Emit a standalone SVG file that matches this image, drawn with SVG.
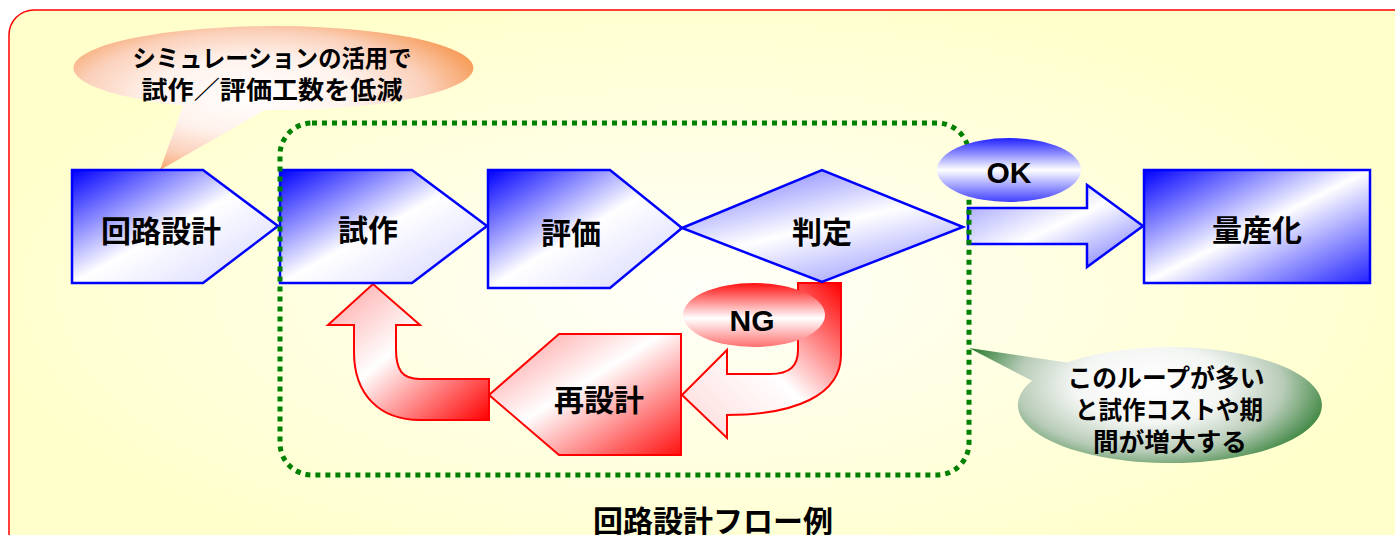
<svg xmlns="http://www.w3.org/2000/svg" width="1395" height="535" viewBox="0 0 1395 535">
<style>
.jp{font-family:"Noto Sans CJK JP","Noto Sans CJK SC",sans-serif;font-weight:700;fill:#000;text-anchor:middle;dominant-baseline:central}
.lat{font-family:"Liberation Sans",Arial,sans-serif;font-weight:700;fill:#000;text-anchor:middle}
.blue{stroke:#0000FF;stroke-width:2.5;stroke-linejoin:miter}
.red{stroke:#FF0000;stroke-width:2;stroke-linejoin:miter}
</style>
<defs>
<radialGradient id="bg" gradientUnits="userSpaceOnUse" cx="0" cy="0" r="1" gradientTransform="translate(700,290) scale(720,300)">
<stop offset="0" stop-color="#FFFFFA"/><stop offset="1" stop-color="#FFFFCC"/>
</radialGradient>
<linearGradient id="gBlue" x1="0" y1="0" x2="1" y2="1">
<stop offset="0" stop-color="#0000FF"/><stop offset="0.5" stop-color="#FFFFFF"/><stop offset="0.8" stop-color="#E4E4FF"/><stop offset="1" stop-color="#8888FF"/>
</linearGradient>
<linearGradient id="gBlueStrong" x1="0" y1="0" x2="1" y2="1">
<stop offset="0" stop-color="#0000FF"/><stop offset="0.5" stop-color="#FFFFFF"/><stop offset="1" stop-color="#2222FF"/>
</linearGradient>
<linearGradient id="gDiamond" x1="0.2" y1="0" x2="0.8" y2="1">
<stop offset="0" stop-color="#8080FF"/><stop offset="0.5" stop-color="#FFFFFF"/><stop offset="1" stop-color="#9999FF"/>
</linearGradient>
<linearGradient id="gOkArrow" x1="0" y1="0" x2="1" y2="1">
<stop offset="0" stop-color="#9090FF"/><stop offset="0.5" stop-color="#FFFFFF"/><stop offset="1" stop-color="#7070FF"/>
</linearGradient>
<linearGradient id="gOk" x1="0" y1="0" x2="0" y2="1">
<stop offset="0" stop-color="#2020FF"/><stop offset="0.5" stop-color="#FFFFFF"/><stop offset="1" stop-color="#4040FF"/>
</linearGradient>
<linearGradient id="gNg" x1="0" y1="0" x2="0" y2="1">
<stop offset="0" stop-color="#FF1010"/><stop offset="0.55" stop-color="#FFFFFF"/><stop offset="1" stop-color="#FF7070"/>
</linearGradient>
<linearGradient id="gRedesign" x1="0" y1="0" x2="1" y2="1">
<stop offset="0" stop-color="#FF9090"/><stop offset="0.45" stop-color="#FFFFFF"/><stop offset="1" stop-color="#FF1010"/>
</linearGradient>
<linearGradient id="gU" x1="1" y1="0" x2="0" y2="1">
<stop offset="0" stop-color="#FF0000"/><stop offset="0.5" stop-color="#FFFFFF"/><stop offset="1" stop-color="#FFD8D8"/>
</linearGradient>
<linearGradient id="gUp" x1="0" y1="0" x2="1" y2="1">
<stop offset="0" stop-color="#FFA0A0"/><stop offset="0.45" stop-color="#FFFFFF"/><stop offset="1" stop-color="#FF0000"/>
</linearGradient>
<radialGradient id="gOrange" gradientUnits="userSpaceOnUse" cx="0" cy="0" r="1" gradientTransform="translate(255,95) scale(230,85)">
<stop offset="0" stop-color="#FFFFFF"/><stop offset="0.45" stop-color="#FFF2EC"/><stop offset="0.75" stop-color="#FBD0BA"/><stop offset="1" stop-color="#F7A060"/>
</radialGradient>
<radialGradient id="gGreen" gradientUnits="userSpaceOnUse" cx="0" cy="0" r="1" gradientTransform="translate(1150,385) scale(190,95)">
<stop offset="0" stop-color="#FFFFFF"/><stop offset="0.4" stop-color="#F4F6F4"/><stop offset="0.7" stop-color="#B8CCB8"/><stop offset="1" stop-color="#2E7D32"/>
</radialGradient>
</defs>

<g id="frame">
<rect x="0" y="0" width="1395" height="535" fill="#FFFFFF"/>
<rect x="9" y="10" width="1410" height="560" rx="25" fill="url(#bg)" stroke="#FF0000" stroke-width="1.5"/>
</g>

<g id="callout-simulation">
<path d="M183,105.5 A200,42 0 1,1 265,110 L160,170 Z" fill="url(#gOrange)"/>
<text class="jp" x="272" y="56" font-size="24" textLength="279" lengthAdjust="spacingAndGlyphs">シミュレーションの活用で</text>
<text class="jp" x="272" y="88" font-size="25" textLength="261" lengthAdjust="spacingAndGlyphs">試作／評価工数を低減</text>
</g>

<g id="connectors">
<path d="M968,208 L1087,208 L1087,185 L1143,226 L1087,267 L1087,244 L968,244 Z" fill="url(#gOkArrow)" class="blue"/>
<path d="M798,283 L841,283 L841,355 C841,395 795,415 727,415 L727,438 L682,395 L727,350 L727,374 L770,374 C790,374 798,366 798,350 Z" fill="url(#gU)" class="red"/>
<path d="M489,379 L420,379 C402,379 396,370 396,349 L396,325 L420,325 L373,284 L328,325 L354,325 L354,352 C354,395 380,420 420,420 L489,420 Z" fill="url(#gUp)" class="red"/>
</g>

<g id="node-kairo">
<polygon points="72,170 203,170 278,226 203,283 72,283" fill="url(#gBlue)" class="blue"/>
<text class="jp" x="161" y="229" font-size="30">回路設計</text>
</g>
<g id="node-shisaku">
<polygon points="280,170 412,170 487,226 412,283 280,283" fill="url(#gBlue)" class="blue"/>
<text class="jp" x="368" y="228" font-size="30">試作</text>
</g>
<g id="node-hyoka">
<polygon points="488,170 610,170 682,228 610,288 488,288" fill="url(#gBlue)" class="blue"/>
<text class="jp" x="571" y="231" font-size="30">評価</text>
</g>
<g id="node-hantei">
<polygon points="682,228 822,170 963,227 822,282" fill="url(#gDiamond)" class="blue"/>
<text class="jp" x="822" y="230" font-size="30">判定</text>
</g>
<g id="node-ryosan">
<rect x="1144" y="170" width="226" height="113" fill="url(#gBlueStrong)" class="blue"/>
<text class="jp" x="1257" y="228" font-size="30">量産化</text>
</g>
<g id="node-redesign">
<polygon points="489,395 559,334 681,334 681,455 559,455" fill="url(#gRedesign)" class="red"/>
<text class="jp" x="599" y="398" font-size="30">再設計</text>
</g>

<g id="label-ng">
<ellipse cx="754" cy="315" rx="71" ry="32" fill="url(#gNg)"/>
<text class="lat" x="752" y="331" font-size="30">NG</text>
</g>

<g id="loop-frame">
<rect x="280" y="123" width="689" height="352" rx="32" fill="none" stroke="#008000" stroke-width="5" stroke-dasharray="5 5"/>
</g>

<g id="label-ok">
<ellipse cx="1009" cy="170" rx="72" ry="32" fill="url(#gOk)"/>
<text class="lat" x="1009" y="183" font-size="30">OK</text>
</g>

<g id="callout-loop">
<path d="M1067,362.4 A152,58 0 1,1 1032,380.7 L969,348 Z" fill="url(#gGreen)"/>
<text class="jp" x="1166" y="376" font-size="25" textLength="197" lengthAdjust="spacingAndGlyphs">このループが多い</text>
<text class="jp" x="1169" y="408" font-size="25" textLength="188" lengthAdjust="spacingAndGlyphs">と試作コストや期</text>
<text class="jp" x="1170" y="440" font-size="25" textLength="154" lengthAdjust="spacingAndGlyphs">間が増大する</text>
</g>

<g id="caption">
<text class="jp" x="713" y="519" font-size="30">回路設計フロー例</text>
</g>
</svg>
